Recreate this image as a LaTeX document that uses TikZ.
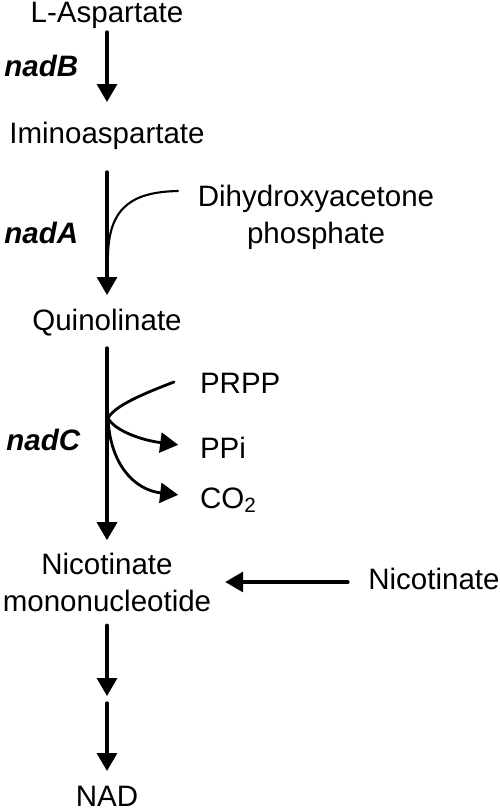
\documentclass[tikz,border=0pt]{standalone}
\usepackage{fontspec}
\setmainfont{Liberation Sans}
\usepackage{tikz}
\usetikzlibrary{arrows.meta}
\tikzset{
    every picture/.style={line cap=round,line join=round},
    metab/.style={inner sep=0pt,outer sep=0pt,align=center,
      font=\fontsize{16.8pt}{21pt}\selectfont},
    oneline/.style={metab,text height=0.42cm,text depth=0.12cm},
    enzyme/.style={inner sep=0pt,anchor=base west,
      font=\fontsize{16.8pt}{21pt}\selectfont\bfseries\itshape},
    flowarrow/.style={-{Triangle[length=3.6mm,width=4mm]},line width=1.9pt},
    sidearrow/.style={flowarrow,line width=1.6pt},
    sideline/.style={line width=1.2pt}
}
\begin{document}
\begin{tikzpicture}[x=0.02cm,y=-0.02cm]
    \useasboundingbox (0,0) rectangle (500,811);
    % main pathway
    \node[oneline,anchor=base] (lasp) at (107,23) {L-Aspartate};
    \node[oneline,anchor=base] (imino) at (107,143) {Iminoaspartate};
    \node[oneline,anchor=base] (quin) at (107,330) {Quinolinate};
    \node[metab] (nmn) at (107,582) {Nicotinate\\mononucleotide};
    \node[oneline,anchor=base] (nad) at (107,806) {NAD};
    % enzymes
    \node[enzyme] (nadb) at (4,77) {nadB};
    \node[enzyme] (nada) at (4,243) {nadA};
    \node[enzyme] (nadc) at (6,450) {nadC};
    % side substrates and products
    \node[metab] (dhap) at (316,217) {Dihydroxyacetone\\phosphate};
    \node[oneline,anchor=base west] (prpp) at (200,393) {PRPP};
    \node[oneline,anchor=base west] (ppi) at (200,458) {PPi};
    \node[oneline,anchor=base west] (co2) at (200,508) {CO\textsubscript{2}};
    \node[oneline] (nic) at (434,582) {Nicotinate};
    \coordinate (dhapin) at (178,191);
    \coordinate (dhapjoin) at (108,255);
    \coordinate (prppin) at (174,382);
    \coordinate (branch) at (108,418);
    \coordinate (nadstep) at (107,700);
    % arrows
    \draw[flowarrow,shorten <=0.06cm,shorten >=0.4cm] (lasp) -- (imino);
    \draw[flowarrow,shorten <=0.46cm,shorten >=0.28cm] (imino) -- (quin);
    \draw[flowarrow,shorten <=0.24cm,shorten >=0.25cm] (quin) -- (nmn);
    \draw[flowarrow,shorten <=0.41cm,shorten >=0.28cm] (nic) -- (nmn);
    \draw[flowarrow,shorten <=0.28cm,shorten >=0.08cm] (nmn) -- (nadstep);
    \draw[flowarrow,shorten <=0.06cm,shorten >=0.28cm] (nadstep) -- (nad);
    \draw[sideline] (dhapin) .. controls (135,192) and (109,205) .. (dhapjoin);
    \draw[line width=1.6pt] (prppin) .. controls (140,395) and (115,406) .. (branch);
    \draw[sidearrow,shorten >=0.44cm] (branch) .. controls (114,430) and (140,440) .. (ppi);
    \draw[sidearrow,shorten >=0.44cm] (branch) .. controls (110,465) and (135,490) .. (co2);
\end{tikzpicture}
\end{document}
